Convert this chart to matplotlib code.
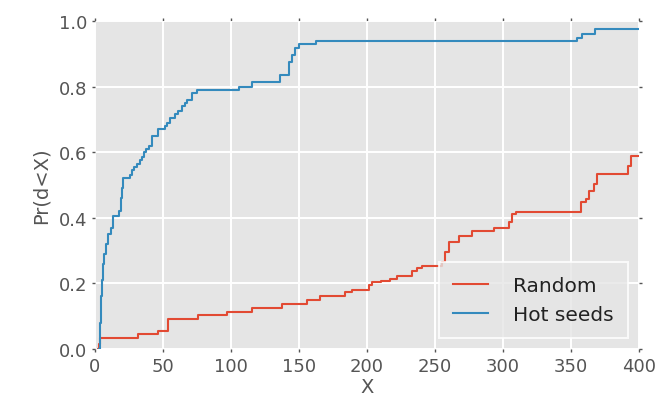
import numpy as np
import matplotlib
matplotlib.use('Agg')
import matplotlib.pyplot as plt

plt.style.use('ggplot')

# step points of the two CDFs (steps-post)
rand_x = [2.0, 3.0, 3.8, 31.9, 46.7, 54.0, 76.1, 97.0, 115.4, 137.5, 155.9, 165.7,
          184.2, 189.0, 201.3, 204.0, 210.0, 217.3, 222.0, 233.3, 237.0, 240.7,
          255.4, 257.8, 260.3, 267.6, 277.5, 293.4, 304.5, 307.0, 309.4,
          357.3, 361.0, 363.4, 367.1, 369.6, 391.7, 394.1, 400.0]
rand_y = [0.0, 0.015, 0.033, 0.046, 0.056, 0.091, 0.104, 0.114, 0.126, 0.137, 0.150, 0.163,
          0.173, 0.181, 0.195, 0.203, 0.208, 0.213, 0.222, 0.239, 0.246, 0.253,
          0.264, 0.295, 0.325, 0.345, 0.359, 0.369, 0.386, 0.410, 0.417,
          0.447, 0.457, 0.483, 0.503, 0.534, 0.559, 0.589, 0.589]

hot_x = [3.0, 3.8, 4.3, 4.8, 5.6, 6.6, 8.0, 9.8, 11.5, 13.3, 17.8, 18.8, 19.8, 20.9,
         25.5, 27.0, 29.0, 30.7, 32.8, 34.4, 36.0, 37.5, 39.5, 41.8, 46.6, 51.6, 53.0,
         55.2, 58.5, 61.4, 63.9, 66.0, 67.5, 71.2, 74.9, 105.6, 115.4, 135.8, 142.4,
         145.0, 147.3, 149.8, 162.8, 354.5, 358.5, 368.0, 400.0]
hot_y = [0.0, 0.08, 0.16, 0.21, 0.26, 0.29, 0.32, 0.35, 0.37, 0.405, 0.42, 0.46, 0.49, 0.52,
         0.53, 0.545, 0.555, 0.565, 0.575, 0.585, 0.60, 0.61, 0.62, 0.65, 0.67, 0.68, 0.69,
         0.705, 0.715, 0.725, 0.74, 0.75, 0.76, 0.78, 0.79, 0.80, 0.815, 0.835, 0.874,
         0.895, 0.917, 0.93, 0.94, 0.947, 0.96, 0.975, 0.975]

x_ticks = [0, 50, 100, 150, 200, 250, 300, 350, 400]
y_ticks = [0.0, 0.2, 0.4, 0.6, 0.8, 1.0]

fig = plt.figure(figsize=(6.62, 4.06), dpi=100)
ax = fig.add_axes([0.1435, 0.138, 0.8215, 0.808])

ax.plot(rand_x, rand_y, drawstyle='steps-post', color='#E24A33', lw=1.5, label='Random')
ax.plot(hot_x, hot_y, drawstyle='steps-post', color='#348ABD', lw=1.5, label='Hot seeds')

ax.set_xlim(0, 400)
ax.set_ylim(0, 1.0)
ax.set_xticks(x_ticks)
ax.set_yticks(y_ticks)
ax.set_yticklabels([f'{v:.1f}' for v in y_ticks])
ax.grid(True, color='white', lw=1.4)
ax.tick_params(direction='out', length=2, width=1, top=True, right=True,
               color='#555555', labelcolor='#555555', labelsize=13)
for s in ax.spines.values():
    s.set_visible(False)

ax.set_xlabel('X', fontsize=14, color='#555555', labelpad=2)
ax.set_ylabel('Pr(d<X)', fontsize=14, color='#555555', labelpad=6)

leg = ax.legend(loc='lower right', fontsize=14.5, fancybox=False, frameon=True,
                handlelength=1.75, handletextpad=1.25, borderaxespad=0.55,
                borderpad=0.7, labelspacing=0.5)
leg.get_frame().set_facecolor('#E5E5E5')
leg.get_frame().set_edgecolor('white')
leg.get_frame().set_linewidth(1.5)
for t in leg.get_texts():
    t.set_color('#222222')

fig.savefig('out.png', dpi=100)
